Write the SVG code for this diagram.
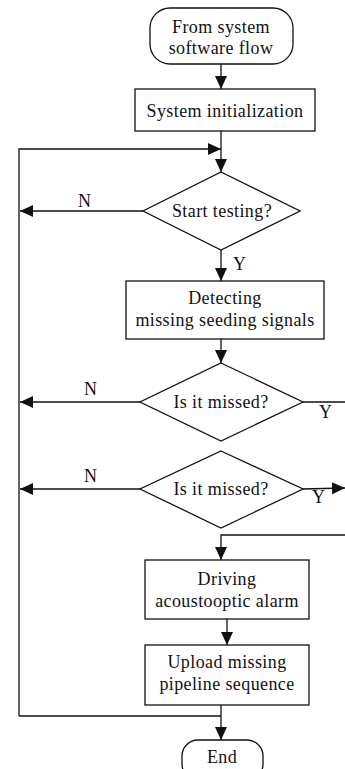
<svg xmlns="http://www.w3.org/2000/svg" width="345" height="769" viewBox="0 0 345 769">
<style>
.n{fill:#fff;stroke:#111;stroke-width:1.3}
.t{font-family:"Liberation Serif","Times New Roman",serif;font-size:18px;letter-spacing:0.4px;fill:#111;text-anchor:middle}
.l{font-family:"Liberation Serif","Times New Roman",serif;font-size:18px;fill:#111}
.c{fill:none;stroke:#111;stroke-width:1.3}
</style>
<defs>
<marker id="a" markerUnits="userSpaceOnUse" markerWidth="14" markerHeight="12" refX="13" refY="6" orient="auto">
<path d="M0,0 L13,6 L0,12 Z" fill="#111"/>
</marker>
</defs>
<rect width="345" height="769" fill="#fff"/>
<g id="connectors">
<path class="c" d="M221,64 V89" marker-end="url(#a)"/>
<path class="c" d="M221,131 V172" marker-end="url(#a)"/>
<path class="c" d="M19,716 V149 H221" marker-end="url(#a)"/>
<path class="c" d="M143,211 H20" marker-end="url(#a)"/>
<path class="c" d="M221,250 V281" marker-end="url(#a)"/>
<path class="c" d="M221,339 V363" marker-end="url(#a)"/>
<path class="c" d="M140,402 H20" marker-end="url(#a)"/>
<path class="c" d="M303,402 H345"/>
<path class="c" d="M140,489 H20" marker-end="url(#a)"/>
<path class="c" d="M303,489 L345,488" marker-end="url(#a)"/>
<path class="c" d="M345,535 H221 V560" marker-end="url(#a)"/>
<path class="c" d="M227,619 V645" marker-end="url(#a)"/>
<path class="c" d="M19,716 H221"/>
<path class="c" d="M221,705 V740" marker-end="url(#a)"/>
<text class="l" x="78" y="207">N</text>
<text class="l" x="233" y="270">Y</text>
<text class="l" x="84" y="395">N</text>
<text class="l" x="319" y="418">Y</text>
<text class="l" x="84" y="482">N</text>
<text class="l" x="312" y="503">Y</text>
</g>
<g id="start">
<rect class="n" x="150" y="8" width="143" height="56" rx="20"/>
<text class="t" x="221" y="33">From system</text>
<text class="t" x="221" y="54">software flow</text>
</g>
<g id="init">
<rect class="n" x="135" y="89" width="180" height="42"/>
<text class="t" x="225" y="117">System initialization</text>
</g>
<g id="start-testing">
<polygon class="n" points="221,172 300,211 221,250 143,211"/>
<text class="t" x="222" y="217">Start testing?</text>
</g>
<g id="detecting">
<rect class="n" x="126" y="281" width="198" height="58"/>
<text class="t" x="225" y="304">Detecting</text>
<text class="t" x="225" y="326">missing seeding signals</text>
</g>
<g id="missed1">
<polygon class="n" points="221,363 303,402 221,441 140,402"/>
<text class="t" x="221" y="408">Is it missed?</text>
</g>
<g id="missed2">
<polygon class="n" points="221,451 303,489 221,528 140,489"/>
<text class="t" x="221" y="495">Is it missed?</text>
</g>
<g id="driving">
<rect class="n" x="145" y="560" width="164" height="59"/>
<text class="t" x="227" y="585">Driving</text>
<text class="t" x="227" y="607">acoustooptic alarm</text>
</g>
<g id="upload">
<rect class="n" x="145" y="645" width="164" height="60"/>
<text class="t" x="227" y="668">Upload missing</text>
<text class="t" x="227" y="690">pipeline sequence</text>
</g>
<g id="end">
<rect class="n" x="182" y="740" width="81" height="40" rx="16"/>
<text class="t" x="222" y="763">End</text>
</g>
</svg>
